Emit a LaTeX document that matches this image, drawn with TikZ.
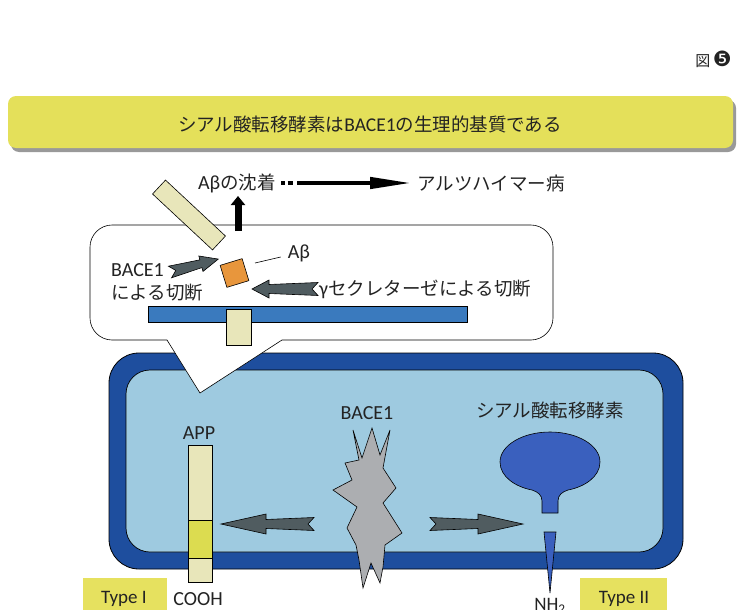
\documentclass[tikz,border=0pt]{standalone}
\usepackage{fontspec}
\setmainfont{Noto Sans CJK JP}
\newfontfamily\latfont{Carlito}
\newfontfamily\dingfont{DejaVu Sans}
\usetikzlibrary{arrows.meta}

\definecolor{membrane}{RGB}{30,78,158}
\definecolor{cytosol}{RGB}{158,202,224}
\definecolor{barblue}{RGB}{58,122,190}
\definecolor{pale}{RGB}{232,230,186}
\definecolor{appyellow}{RGB}{220,220,80}
\definecolor{abeta}{RGB}{232,150,60}
\definecolor{slate}{RGB}{80,92,96}
\definecolor{enzgray}{RGB}{172,174,177}
\definecolor{stblue}{RGB}{58,96,190}
\definecolor{bannerfill}{RGB}{228,224,90}
\definecolor{typebox}{RGB}{230,225,95}
\definecolor{ink}{RGB}{35,35,35}

% block arrow: #1 tail point, #2 angle, #3 length, #4 shaft half-width,
% #5 head half-width, #6 head length
\newcommand\fatarrow[6]{%
  \begin{scope}[shift={#1},rotate=#2]
    \draw[blockarrow] (0,{-#4-2}) -- (6,0) -- (0,{#4+2}) -- ({#3-#6},#4)
      -- ({#3-#6},#5) -- (#3,0) -- ({#3-#6},-#5) -- ({#3-#6},-#4) -- cycle;
  \end{scope}}

\begin{document}
\begin{tikzpicture}[x=1pt,y=-1pt,
  every node/.style={text=ink,inner sep=0pt},
  jp/.style={font=\fontsize{18.5}{22}\selectfont},
  lt/.style={font=\fontsize{20}{22}\selectfont\latfont},
  edge/.style={draw=black,line width=0.6pt},
  blockarrow/.style={fill=slate,draw=black,line width=0.6pt,line join=miter},
  paleblock/.style={fill=pale,draw=black,line width=0.6pt}]

\useasboundingbox (0,0) rectangle (752,610);
\fill[white] (0,0) rectangle (752,610);

% figure number
\node[font=\fontsize{15}{16}\selectfont,anchor=east] (fignum) at (732,59)
  {図\,{\dingfont\fontsize{21}{22}\selectfont ❺}};

% title banner
\fill[black!40,rounded corners=8pt] (11,100) rectangle (736,152);
\fill[bannerfill,rounded corners=8pt] (8,96) rectangle (733,148);
\node[font=\fontsize{18.5}{20}\selectfont] (title) at (370,124)
  {シアル酸転移酵素は{\latfont\fontsize{19.5}{20}\selectfont BACE1}の生理的基質である};

% cell: membrane and cytosol
\draw[fill=membrane,draw=black,line width=0.8pt,rounded corners=30pt]
  (109,353) rectangle (683,569);
\draw[fill=cytosol,draw=black,line width=0.7pt,rounded corners=24pt]
  (126,370) rectangle (663,552);

% BACE1
\draw[edge,fill=enzgray,line join=miter]
  (353,430) -- (362,458) -- (372,428) -- (380,455) -- (390,430) -- (383,468)
  -- (396,488) -- (383,503) -- (402,533) -- (385,545) -- (383,567) -- (380,583)
  -- (371,563) -- (363,588) -- (359,560) -- (356,545) -- (347,528) -- (357,507)
  -- (333,490) -- (352,480) -- (345,463) -- (359,460) -- cycle;
\node[lt] (bacecell) at (367,413) {BACE1};

% APP
\draw[paleblock] (188,445) rectangle (212,520);
\draw[edge,fill=appyellow] (188,520) rectangle (212,558);
\draw[paleblock] (188,558) rectangle (212,582);
\node[lt] (app) at (199,433) {APP};
\node[lt] (cooh) at (198,599) {COOH};

% sialyltransferase
\draw[edge,fill=stblue]
  (542,513) -- (542,501) .. controls (542,495) and (538,492) .. (532,490)
  .. controls (516,487) and (500,477) .. (500,462)
  .. controls (500,445.4) and (522.4,432) .. (550,432)
  .. controls (577.6,432) and (600,445.4) .. (600,462)
  .. controls (600,477) and (584,487) .. (568,490)
  .. controls (562,492) and (558,495) .. (558,501) -- (558,513) -- cycle;
\draw[edge,fill=stblue] (544,532) -- (556,532) -- (550,593) -- cycle;
\node[jp] (sttext) at (550,410) {シアル酸転移酵素};
\node[font=\fontsize{19}{20}\selectfont\latfont] (nh) at (550,606) {NH\textsubscript{2}};

% BACE1 acting on both substrates
\fatarrow{(314,524)}{180}{93}{4.5}{10}{45}
\fatarrow{(430,524)}{0}{93}{4.5}{10}{45}

% topology labels
\fill[typebox] (83,578) rectangle (167,615);
\node[font=\fontsize{19}{20}\selectfont\latfont] (type1) at (124,599) {Type I};
\fill[typebox] (580,578) rectangle (667,615);
\node[font=\fontsize{19}{20}\selectfont\latfont] (type2) at (624,599) {Type II};

% callout bubble
\draw[edge,fill=white,line join=miter]
  (167,340) -- (112,340) .. controls (100,340) and (90,330) .. (90,318)
  -- (90,247) .. controls (90,235) and (100,225) .. (112,225)
  -- (531,225) .. controls (543,225) and (553,235) .. (553,247)
  -- (553,318) .. controls (553,330) and (543,340) .. (531,340)
  -- (282,340) -- (200,393) -- cycle;

% membrane and APP stub in the bubble
\draw[edge,fill=barblue] (148,306) rectangle (467,322);
\draw[paleblock] (226,309) rectangle (251,345);

% released N-terminal fragment
\begin{scope}[shift={(189,215)},rotate=-43]
  \draw[paleblock] (-41,-9.5) rectangle (41,9.5);
\end{scope}

% Abeta peptide
\begin{scope}[shift={(234.5,273)},rotate=17]
  \draw[edge,fill=abeta] (-11.5,-11.5) rectangle (11.5,11.5);
\end{scope}
\node[lt] (abl) at (299,253) {Aβ};
\coordinate (abtip) at (255,263);
\draw[black,line width=0.6pt] (abtip) -- ([shift={(-7,4)}]abl.west);

% cleavage arrows
\fatarrow{(170,272)}{15}{50}{4}{8}{18}
\node[lt,anchor=west] (bacename) at (111,270) {BACE1};
\node[jp,anchor=west] (bacecut) at (111,293) {による切断};

\fatarrow{(318,289)}{180}{66}{4.5}{9}{17}
\node[jp,anchor=west] (gamma) at (319,289) {{\latfont\fontsize{20}{22}\selectfont γ}セクレターゼによる切断};

% deposition and disease
\node[jp] (dep) at (237,183) {{\latfont\fontsize{20}{22}\selectfont Aβ}の沈着};
\node[jp,anchor=west] (alz) at (417,183) {アルツハイマー病};
\coordinate (upfoot) at (238,231);
\coordinate (uptip) at (238,196);
\draw[black,line width=7pt,-{Triangle[length=9pt,width=14pt]}] (upfoot) -- (uptip);
\draw[black,line width=4.5pt,dash pattern=on 3.5pt off 3pt on 5pt off 4.5pt on 400pt,
  -{Triangle[length=42pt,width=11pt]},shorten <=5pt,shorten >=5pt]
  (dep.east) -- (alz.west);

\end{tikzpicture}
\end{document}
